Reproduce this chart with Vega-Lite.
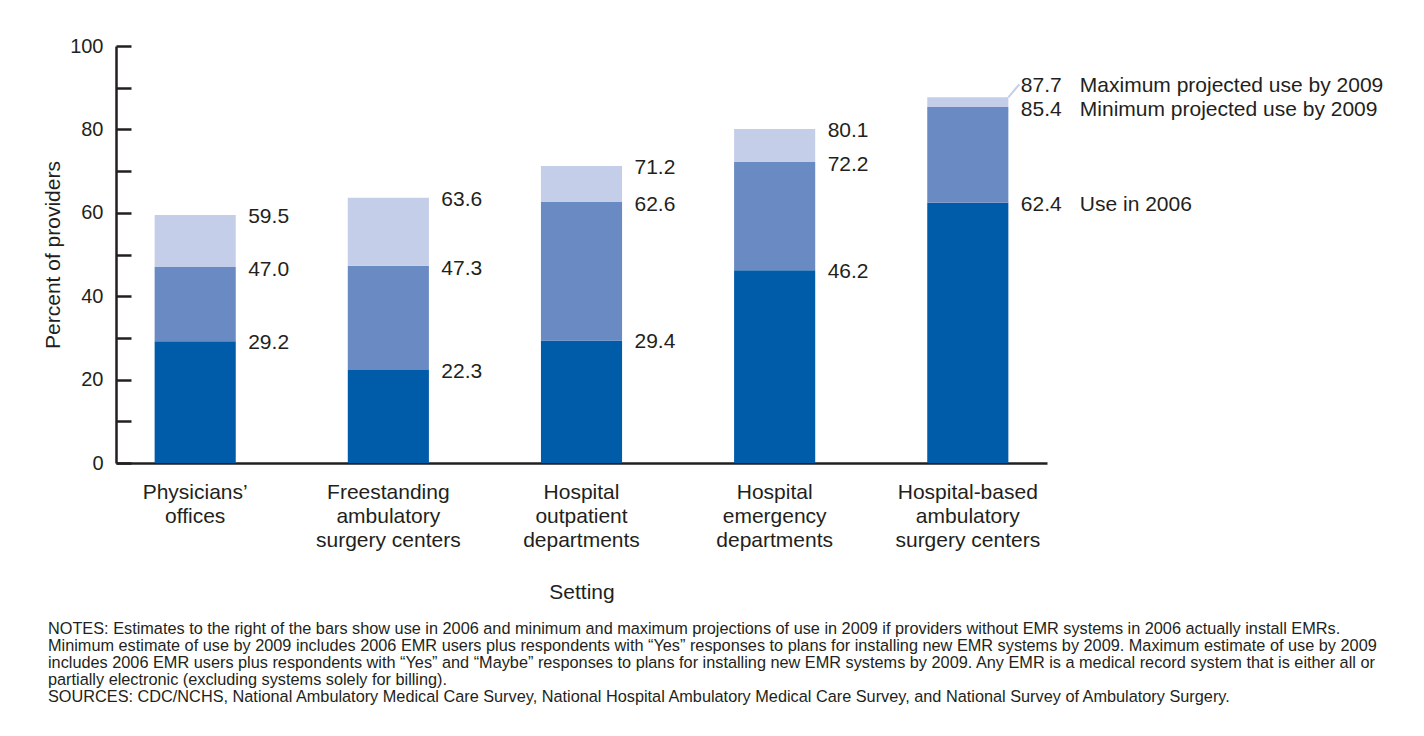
{
  "$schema": "https://vega.github.io/schema/vega-lite/v6.json",
  "autosize": {"type": "none"},
  "padding": {"left": 116, "top": 46, "right": 377, "bottom": 273},
  "width": 931,
  "height": 417,
  "background": "white",
  "config": {
    "font": "Liberation Sans",
    "view": {"stroke": null},
    "text": {"font": "Liberation Sans", "fontSize": 21, "color": "#231f20"}
  },
  "title": {
    "text": [
      "NOTES: Estimates to the right of the bars show use in 2006 and minimum and maximum projections of use in 2009 if providers without EMR systems in 2006 actually install EMRs.",
      "Minimum estimate of use by 2009 includes 2006 EMR users plus respondents with “Yes” responses to plans for installing new EMR systems by 2009. Maximum estimate of use by 2009",
      "includes 2006 EMR users plus respondents with “Yes” and “Maybe” responses to plans for installing new EMR systems by 2009. Any EMR is a medical record system that is either all or",
      "partially electronic (excluding systems solely for billing).",
      "SOURCES: CDC/NCHS, National Ambulatory Medical Care Survey, National Hospital Ambulatory Medical Care Survey, and National Survey of Ambulatory Surgery."
    ],
    "orient": "bottom",
    "anchor": "start",
    "frame": "group",
    "dx": -68,
    "offset": 19,
    "font": "Liberation Sans",
    "fontSize": 16.3,
    "fontWeight": "normal",
    "lineHeight": 17,
    "color": "#231f20"
  },
  "data": {
    "values": [
      {"setting": "Physicians’|offices", "use2006": 29.2, "min2009": 47.0, "max2009": 59.5},
      {"setting": "Freestanding|ambulatory|surgery centers", "use2006": 22.3, "min2009": 47.3, "max2009": 63.6},
      {"setting": "Hospital|outpatient|departments", "use2006": 29.4, "min2009": 62.6, "max2009": 71.2},
      {"setting": "Hospital|emergency|departments", "use2006": 46.2, "min2009": 72.2, "max2009": 80.1},
      {"setting": "Hospital-based|ambulatory|surgery centers", "use2006": 62.4, "min2009": 85.4, "max2009": 87.7}
    ]
  },
  "encoding": {
    "x": {
      "field": "setting",
      "type": "nominal",
      "sort": null,
      "scale": {"paddingInner": 0.58, "paddingOuter": 0.2},
      "axis": {
        "title": "Setting",
        "titleFont": "Liberation Sans",
        "titleFontSize": 21,
        "titleFontWeight": "normal",
        "titleColor": "#231f20",
        "titlePadding": 31,
        "labelAngle": 0,
        "labelExpr": "split(datum.label, '|')",
        "labelFont": "Liberation Sans",
        "labelFontSize": 21,
        "labelLineHeight": 24,
        "labelColor": "#231f20",
        "labelPadding": 18,
        "labelBaseline": "top",
        "ticks": false,
        "domainColor": "#231f20",
        "domainWidth": 2.5
      }
    }
  },
  "layer": [
    {
      "mark": {"type": "bar", "color": "#005ca9"},
      "encoding": {
        "y": {
          "field": "use2006",
          "type": "quantitative",
          "scale": {"domain": [0, 100], "nice": false},
          "axis": {
            "title": "Percent of providers",
            "titleFont": "Liberation Sans",
            "titleFontSize": 21,
            "titleFontWeight": "normal",
            "titleColor": "#231f20",
            "titlePadding": 6,
            "values": [0, 10, 20, 30, 40, 50, 60, 70, 80, 90, 100],
            "labelExpr": "datum.value % 20 === 0 ? datum.label : ''",
            "labelFont": "Liberation Sans",
            "labelFontSize": 20,
            "labelColor": "#231f20",
            "labelPadding": 28,
            "tickSize": -15,
            "tickWidth": 2.5,
            "tickColor": "#231f20",
            "domainColor": "#231f20",
            "domainWidth": 2.5,
            "grid": false
          }
        }
      }
    },
    {
      "mark": {"type": "bar", "color": "#6a8ac3"},
      "encoding": {
        "y": {"field": "use2006", "type": "quantitative"},
        "y2": {"field": "min2009"}
      }
    },
    {
      "mark": {"type": "bar", "color": "#c5cee9"},
      "encoding": {
        "y": {"field": "min2009", "type": "quantitative"},
        "y2": {"field": "max2009"}
      }
    },
    {
      "mark": {"type": "text", "align": "left", "baseline": "middle", "dx": 53, "dy": 2},
      "encoding": {
        "y": {"field": "use2006", "type": "quantitative"},
        "text": {"field": "use2006", "type": "quantitative", "format": ".1f"}
      }
    },
    {
      "mark": {"type": "text", "align": "left", "baseline": "middle", "dx": 53, "dy": 3},
      "encoding": {
        "y": {"field": "min2009", "type": "quantitative"},
        "text": {"field": "min2009", "type": "quantitative", "format": ".1f"}
      }
    },
    {
      "transform": [{"filter": "datum.max2009 - datum.min2009 > 5"}],
      "mark": {"type": "text", "align": "left", "baseline": "middle", "dx": 53, "dy": 2},
      "encoding": {
        "y": {"field": "max2009", "type": "quantitative"},
        "text": {"field": "max2009", "type": "quantitative", "format": ".1f"}
      }
    },
    {
      "transform": [{"filter": "datum.max2009 - datum.min2009 <= 5"}],
      "mark": {"type": "text", "align": "left", "baseline": "middle", "dx": 53, "dy": -11},
      "encoding": {
        "y": {"field": "max2009", "type": "quantitative"},
        "text": {"field": "max2009", "type": "quantitative", "format": ".1f"}
      }
    },
    {
      "transform": [{"filter": "datum.max2009 - datum.min2009 <= 5"}],
      "mark": {"type": "rule", "color": "#c5cee9", "strokeWidth": 2, "xOffset": 40.5, "x2Offset": 51.5, "y2Offset": -13},
      "encoding": {
        "y": {"field": "max2009", "type": "quantitative"},
        "y2": {"field": "max2009"},
        "x2": {"field": "setting"}
      }
    },
    {
      "transform": [{"filter": "datum.setting === 'Hospital-based|ambulatory|surgery centers'"}],
      "mark": {"type": "text", "align": "left", "baseline": "middle", "dx": 112, "dy": -11},
      "encoding": {
        "y": {"field": "max2009", "type": "quantitative"},
        "text": {"value": "Maximum projected use by 2009"}
      }
    },
    {
      "transform": [{"filter": "datum.setting === 'Hospital-based|ambulatory|surgery centers'"}],
      "mark": {"type": "text", "align": "left", "baseline": "middle", "dx": 112, "dy": 3},
      "encoding": {
        "y": {"field": "min2009", "type": "quantitative"},
        "text": {"value": "Minimum projected use by 2009"}
      }
    },
    {
      "transform": [{"filter": "datum.setting === 'Hospital-based|ambulatory|surgery centers'"}],
      "mark": {"type": "text", "align": "left", "baseline": "middle", "dx": 112, "dy": 2},
      "encoding": {
        "y": {"field": "use2006", "type": "quantitative"},
        "text": {"value": "Use in 2006"}
      }
    }
  ]
}
